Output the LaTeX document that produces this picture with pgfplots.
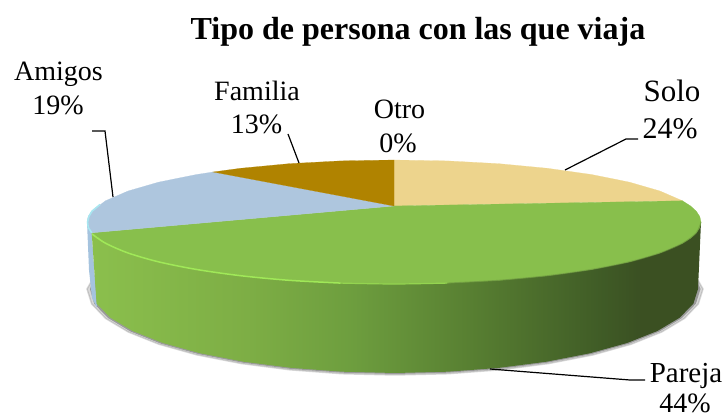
\documentclass[border=0pt]{standalone}
\usepackage{pgfplots}
\pgfplotsset{compat=1.18}
\usepackage{fontspec}
\setmainfont{Liberation Serif}
\newcommand\lab{\fontsize{28}{30}\selectfont}
\definecolor{csolo}{RGB}{237,212,141}
\definecolor{cgreen}{RGB}{136,191,76}
\definecolor{cblue}{RGB}{174,198,222}
\definecolor{cbrown}{RGB}{176,131,0}
\definecolor{csideblue}{RGB}{165,195,222}
\definecolor{chigh}{RGB}{160,232,88}
\definecolor{chigh2}{RGB}{148,212,80}
\pgfdeclarehorizontalshading{sidegreen}{100bp}{
 rgb(0bp)=(0.545,0.75,0.30);
 rgb(25bp)=(0.545,0.75,0.30);
 rgb(38bp)=(0.49,0.68,0.27);
 rgb(46.2bp)=(0.43,0.62,0.245);
 rgb(56bp)=(0.345,0.50,0.195);
 rgb(66.7bp)=(0.25,0.36,0.15);
 rgb(70bp)=(0.23,0.315,0.135);
 rgb(100bp)=(0.23,0.315,0.135)}
\begin{document}
\begin{tikzpicture}
\begin{axis}[
  scale only axis, width=726pt, height=419pt,
  xmin=0, xmax=726, ymin=0, ymax=419, y dir=reverse,
  hide axis, clip=false,
]
% frame of the picture
\addplot[draw=none] coordinates {(0,0)(726,0)(726,419)(0,419)} -- cycle;
% soft shadow, outer layer
\addplot[draw=gray, fill=gray, line width=1.5pt, opacity=0.3] coordinates {
 (95,275)(87,289)(91.7,303.9)(105.6,318.4)(128.3,332)(159.1,344.3)(197,354.9)(241,363.5)(289.7,369.8)(341.5,373.7)(395,375)(448.5,373.7)(500.3,369.8)(549,363.5)(593,354.9)(630.9,344.3)(661.7,332)(684.4,318.4)(698.3,303.9)(703,289)(695,275)} -- cycle;
% soft shadow, inner layer
\addplot[draw=none, fill=black!60, opacity=0.55] coordinates {
 (95,275)(90,289)(94.2,303.8)(108,318)(130.5,331.5)(161,343.7)(198.6,354.1)(242.3,362.6)(290.5,368.9)(342,372.7)(395,374)(448,372.7)(499.5,368.9)(547.7,362.6)(591.4,354.1)(629,343.7)(659.5,331.5)(682,318)(695.9,303.8)(700.5,289)(695,275)} -- cycle;
% side: blue sliver
\addplot[draw=none, fill=csideblue] coordinates {
 (87,222)(88.2,227.4)(91.7,232.8)(97,308)(92,298)(89,270)} -- cycle;
% side: green
\addplot[draw=none, shading=sidegreen, shading angle=0] coordinates {
 (91.7,232.8)(105.5,243.2)(128.1,253)(158.8,261.9)(196.7,269.5)(240.5,275.7)(289,280.3)(340.7,283.1)(394,284)(447.3,283.1)(499,280.3)(547.5,275.7)(591.3,269.5)(629.2,261.9)(659.9,253)(682.5,243.2)(696.3,232.8)(701,222)
 (698,289)(693.4,303.6)(679.7,317.7)(657.4,331)(627.1,343)(589.8,353.3)(546.5,361.7)(498.6,367.9)(447.6,371.7)(395,373)(342.4,371.7)(291.4,367.9)(243.5,361.7)(200.2,353.3)(162.9,343)(132.6,331)(110.3,317.7)(96.6,303.6)} -- cycle;
% top: Solo 24
\addplot[draw=csolo, fill=csolo, line width=0.2pt] coordinates {
 (394,206)(394,160)(447.3,160.9)(499,163.7)(547.5,168.3)(591.3,174.5)(629.2,182.1)(659.9,191)(682.5,200.8)} -- cycle;
% top: Pareja 44
\addplot[draw=cgreen, fill=cgreen, line width=0.2pt] coordinates {
 (394,206)(682.5,200.8)(690.6,206)(696.3,211.2)(699.8,216.6)(701,222)(699.8,227.4)(696.3,232.8)(690.6,238.1)(682.5,243.2)(659.9,253)(629.2,261.9)(591.3,269.5)(547.5,275.7)(499,280.3)(447.3,283.1)(394,284)(340.7,283.1)(289,280.3)(240.5,275.7)(196.7,269.5)(158.8,261.9)(128.1,253)(105.5,243.2)(91.7,232.8)} -- cycle;
% top: Amigos 19
\addplot[draw=cblue, fill=cblue, line width=0.2pt] coordinates {
 (394,206)(91.7,232.8)(88.2,227.4)(87,222)(88.2,216.6)(91.7,211.2)(105.5,200.8)(128.1,191)(158.8,182.1)(196.7,174.5)(213,172)} -- cycle;
% top: Familia 13
\addplot[draw=cbrown, fill=cbrown, line width=0.2pt] coordinates {
 (394,206)(213,172)(240.5,168.3)(289,163.7)(340.7,160.9)(394,160)} -- cycle;
% bevel highlights
\addplot[draw=white!45!cblue!80!cyan, line width=1.6pt] coordinates {(91.7,232.8)(88.2,227.4)(87.6,222)(88.8,216.6)(92,211.2)(100,204.5)};
\addplot[draw=chigh, line width=1.5pt, smooth] coordinates {(92,234)(105.5,243.2)(128.1,253)(158.8,261.9)(196.7,269.5)(240.5,275.7)(289,280.3)(340.7,283.1)};
\addplot[draw=chigh2, line width=1.2pt, smooth] coordinates {(340.7,283.1)(394,284)(447.3,283.1)};
\addplot[draw=cgreen!80!black, line width=1pt, opacity=0.7, smooth] coordinates {(447.3,283.1)(499,280.3)(547.5,275.7)(591.3,269.5)(629.2,261.9)(659.9,253)(682.5,243.2)(696.3,232.8)(701,222)};
% leader lines
\addplot[black, line width=1.2pt] coordinates {(92,131)(105,131)(113,197)};
\addplot[black, line width=1.2pt] coordinates {(288,134)(299,163)};
\addplot[black, line width=1.2pt] coordinates {(565,170)(626,139)(638,139)};
\addplot[black, line width=1.2pt] coordinates {(490,369)(630,380)(645,380)};
% texts
\node[anchor=base, inner sep=0pt, font=\fontsize{32}{34}\selectfont\bfseries] at (axis cs:418,40) {Tipo de persona con las que viaja};
\node[anchor=base, inner sep=0pt, font=\lab] at (axis cs:58.5,81) {Amigos};
\node[anchor=base, inner sep=0pt, font=\lab] at (axis cs:58,115) {19\%};
\node[anchor=base, inner sep=0pt, font=\lab] at (axis cs:257,100.5) {Familia};
\node[anchor=base, inner sep=0pt, font=\lab] at (axis cs:256.5,134) {13\%};
\node[anchor=base, inner sep=0pt, font=\lab] at (axis cs:399.5,119) {Otro};
\node[anchor=base, inner sep=0pt, font=\lab] at (axis cs:398,152.5) {0\%};
\node[anchor=base, inner sep=0pt, font=\fontsize{31}{33}\selectfont] at (axis cs:672,102) {Solo};
\node[anchor=base, inner sep=0pt, font=\fontsize{30}{32}\selectfont] at (axis cs:670,139) {24\%};
\node[anchor=base, inner sep=0pt, font=\fontsize{29}{31}\selectfont] at (axis cs:686,383) {Pareja};
\node[anchor=base, inner sep=0pt, font=\lab] at (axis cs:685,412.5) {44\%};
\end{axis}
\end{tikzpicture}
\end{document}
